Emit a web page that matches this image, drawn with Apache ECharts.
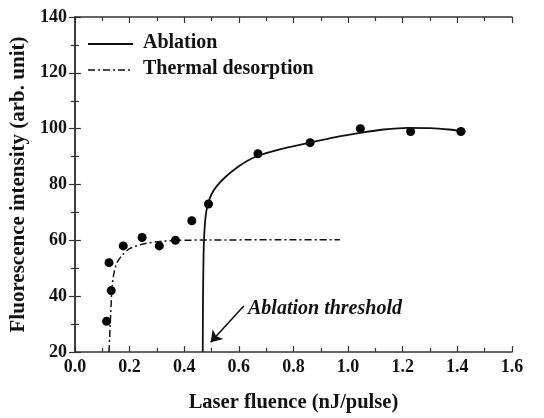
<!DOCTYPE html>
<html>
<head>
<meta charset="utf-8">
<script src="https://cdn.jsdelivr.net/npm/echarts@6/dist/echarts.min.js"></script>
<style>
  html, body { margin: 0; padding: 0; background: #fff; }
  #chart { width: 544px; height: 418px; }
</style>
</head>
<body>
<div id="chart"></div>
<script>
// Measured fluorescence intensity versus laser fluence
const fluence = [0.116, 0.125, 0.133, 0.177, 0.246, 0.309, 0.368, 0.428, 0.489, 0.670, 0.861, 1.045, 1.229, 1.413];
const intensity = [31, 52, 42, 58, 61, 58, 60, 67, 73, 91, 95, 100, 99, 99];

// Fitted ablation curve (fluence, intensity)
const ablationX = [0.468, 0.469, 0.471, 0.474, 0.479, 0.487, 0.50, 0.52, 0.55, 0.59, 0.63, 0.67, 0.72, 0.78, 0.86, 0.95, 1.05, 1.13, 1.22, 1.30, 1.37, 1.43];
const ablationY = [20, 40, 55, 63, 69, 73, 76.5, 79.5, 82.6, 85.8, 88.4, 90.3, 91.8, 93.3, 95.0, 96.9, 98.6, 99.7, 100.3, 100.2, 99.7, 99.0];

// Fitted thermal desorption curve (fluence, intensity)
const thermalX = [0.125, 0.127, 0.129, 0.133, 0.135, 0.142, 0.153, 0.173, 0.202, 0.254, 0.312, 0.37, 0.5, 0.7, 0.97];
const thermalY = [20, 24.9, 29.6, 37.8, 42.2, 47.7, 51.8, 54.7, 57.1, 58.8, 59.6, 60.0, 60.1, 60.2, 60.2];

// Arrow pointing at the ablation threshold (fluence, intensity)
const arrowFrom = [0.618, 36.5];
const arrowTo = [0.497, 23.5];

// Axis ranges and ticks
const xTicks = { min: 0, max: 1.6, interval: 0.2 };
const yTicks = { min: 20, max: 140, interval: 20 };

const FONT = '"Liberation Serif", "Times New Roman", serif';
const INK = '#111';

const zip = (xs, ys) => xs.map((x, i) => [x, ys[i]]);

const axisCommon = {
  axisLine: { show: true, lineStyle: { color: '#333', width: 1.5 } },
  axisTick: { show: true, inside: true, length: 6, lineStyle: { color: '#333', width: 1.2 } },
  minorTick: { show: true, splitNumber: 2, length: 4, lineStyle: { color: '#333', width: 1.2 } },
  splitLine: { show: false }
};

const chart = echarts.init(document.getElementById('chart'), null, { renderer: 'canvas' });

chart.setOption({
  animation: false,
  backgroundColor: '#fff',
  grid: { left: 71, right: 32, top: 17, bottom: 58 },
  xAxis: [
    Object.assign({
      type: 'value', position: 'bottom',
      min: xTicks.min, max: xTicks.max, interval: xTicks.interval,
      name: 'Laser fluence (nJ/pulse)', nameLocation: 'middle', nameGap: 40,
      nameTextStyle: { fontFamily: FONT, fontWeight: 'bold', fontSize: 20.5, color: INK },
      axisLabel: {
        fontFamily: FONT, fontWeight: 'bold', fontSize: 18, color: INK, margin: 6,
        formatter: v => v.toFixed(1)
      }
    }, axisCommon),
    Object.assign({
      type: 'value', position: 'top',
      min: xTicks.min, max: xTicks.max, interval: xTicks.interval,
      axisLabel: { show: false }
    }, axisCommon)
  ],
  yAxis: [
    Object.assign({
      type: 'value', position: 'left',
      min: yTicks.min, max: yTicks.max, interval: yTicks.interval,
      name: 'Fluorescence intensity (arb. unit)', nameLocation: 'middle', nameGap: 45,
      nameTextStyle: { fontFamily: FONT, fontWeight: 'bold', fontSize: 21, color: INK },
      axisLabel: { fontFamily: FONT, fontWeight: 'bold', fontSize: 18, color: INK, margin: 8 }
    }, axisCommon),
    Object.assign({
      type: 'value', position: 'right',
      min: yTicks.min, max: yTicks.max, interval: yTicks.interval,
      axisLabel: { show: false }
    }, axisCommon)
  ],
  series: [
    {
      name: 'Ablation', type: 'line', xAxisIndex: 0, yAxisIndex: 0,
      data: zip(ablationX, ablationY),
      smooth: 0.25, showSymbol: false,
      lineStyle: { color: INK, width: 1.8, type: 'solid' },
      markLine: {
        silent: true,
        symbol: ['none', 'arrow'], symbolSize: 11,
        label: { show: false },
        lineStyle: { color: INK, width: 1.6, type: 'solid' },
        data: [[{ coord: arrowFrom }, { coord: arrowTo }]]
      }
    },
    {
      name: 'Thermal desorption', type: 'line', xAxisIndex: 0, yAxisIndex: 0,
      data: zip(thermalX, thermalY),
      smooth: 0.25, showSymbol: false,
      lineStyle: { color: INK, width: 1.5, type: [7, 3, 2, 3] }
    },
    {
      name: 'Data', type: 'scatter', xAxisIndex: 0, yAxisIndex: 0,
      data: zip(fluence, intensity),
      symbol: 'circle', symbolSize: 9,
      itemStyle: { color: '#000', opacity: 1 }
    }
  ],
  graphic: [
    { type: 'line', shape: { x1: 88, y1: 44, x2: 133, y2: 44 }, style: { stroke: INK, lineWidth: 1.8 } },
    { type: 'text', left: 143, top: 33, style: { text: 'Ablation', font: 'bold 20px ' + FONT, fill: INK } },
    { type: 'line', shape: { x1: 88, y1: 70, x2: 133, y2: 70 }, style: { stroke: INK, lineWidth: 1.5, lineDash: [7, 3, 2, 3] } },
    { type: 'text', left: 143, top: 59, style: { text: 'Thermal desorption', font: 'bold 20px ' + FONT, fill: INK } },
    { type: 'text', left: 248, top: 299, style: { text: 'Ablation threshold', font: 'italic bold 20px ' + FONT, fill: INK } }
  ]
});
</script>
</body>
</html>
